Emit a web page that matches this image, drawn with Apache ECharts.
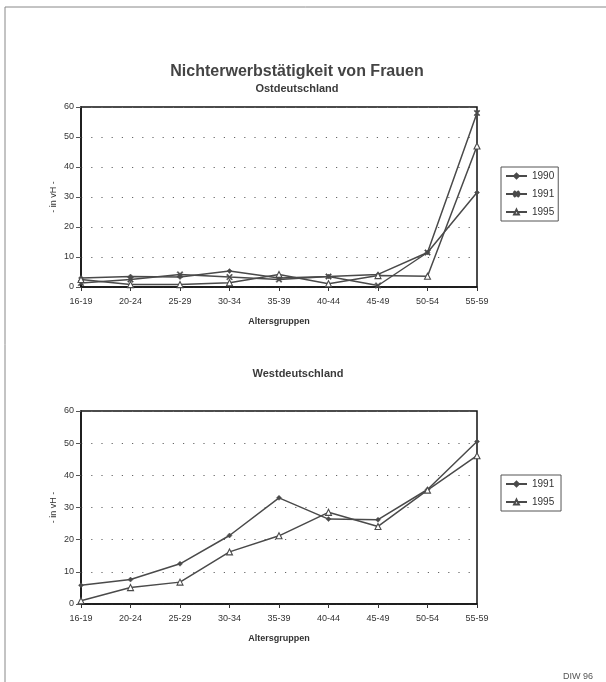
<!DOCTYPE html>
<html>
<head>
<meta charset="utf-8">
<script src="https://cdn.jsdelivr.net/npm/echarts@6/dist/echarts.min.js"></script>
<style>
html,body{margin:0;padding:0;background:#fff;}
#c{width:606px;height:682px;}
</style>
</head>
<body>
<div id="c"></div>
<script>
var categories = ['16-19','20-24','25-29','30-34','35-39','40-44','45-49','50-54','55-59'];
var yTicks = [0, 10, 20, 30, 40, 50, 60];

// Ostdeutschland
var ost1990 = [3.0, 3.5, 3.3, 5.3, 3.0, 3.5, 4.2, 11.5, 31.5];
var ost1991 = [1.3, 2.5, 4.2, 3.3, 2.5, 3.5, 0.5, 11.5, 58.0];
var ost1995 = [2.5, 0.8, 0.8, 1.4, 4.2, 1.1, 3.8, 3.6, 47.0];

// Westdeutschland
var west1991 = [5.8, 7.6, 12.5, 21.3, 33.0, 26.4, 26.2, 35.6, 50.5];
var west1995 = [1.0, 5.1, 6.8, 16.2, 21.2, 28.5, 24.1, 35.4, 46.1];

var FONT = 'Liberation Sans, Arial, sans-serif';
var INK = '#333';
var LINE = '#4a4a4a';
var xSym = 'path://M0,1.5L1.5,0L5,3.5L8.5,0L10,1.5L6.5,5L10,8.5L8.5,10L5,6.5L1.5,10L0,8.5L3.5,5Z';

function xAxis(gridIndex){
  return {
    type:'category', gridIndex:gridIndex, data:categories, boundaryGap:false,
    name:'Altersgruppen', nameLocation:'middle', nameGap:30,
    nameTextStyle:{fontFamily:FONT, fontSize:9, fontWeight:'bold', color:INK},
    axisLine:{lineStyle:{color:'#111', width:1.5}},
    axisTick:{show:true, length:4, lineStyle:{color:'#333'}},
    axisLabel:{fontFamily:FONT, fontSize:9, color:INK, margin:10, interval:0},
    splitLine:{show:false}
  };
}
function yAxis(gridIndex){
  return {
    type:'value', gridIndex:gridIndex, min:0, max:60, interval:10,
    name:'- in vH -', nameLocation:'middle', nameGap:23, nameRotate:90,
    nameMoveOverlap:false,
    nameTextStyle:{fontFamily:FONT, fontSize:9, color:INK},
    axisLine:{show:true, lineStyle:{color:'#111', width:1.5}},
    axisTick:{show:true, length:5, lineStyle:{color:'#555'}},
    axisLabel:{fontFamily:FONT, fontSize:9, color:INK, margin:7,
      formatter:function(v){ return yTicks.indexOf(v) >= 0 ? String(v) : ''; }},
    splitLine:{show:true, lineStyle:{color:'#666', type:[1.2,9], width:1.2}}
  };
}
function ser(name, data, xi, sym, size, fill){
  return {
    name:name, type:'line', xAxisIndex:xi, yAxisIndex:xi, data:data,
    symbol:sym, symbolSize:size, showSymbol:true,
    lineStyle:{color:LINE, width:1.5},
    itemStyle:{color:fill, borderColor:LINE, borderWidth: sym==='triangle'?1.1:0.5},
    animation:false
  };
}
var legendCommon = {
  orient:'vertical', left:501, itemWidth:21, itemHeight:6, itemGap:8,
  padding:[4,4,4,4], borderColor:'#555', borderWidth:1, borderRadius:0,
  textStyle:{fontFamily:FONT, fontSize:10, color:INK}
};

var chart = echarts.init(document.getElementById('c'), null, {renderer:'canvas'});
chart.setOption({
  backgroundColor:'#fff',
  animation:false,
  title:[
    {text:'Nichterwerbstätigkeit von Frauen', left:292, top:59, textAlign:'center',
      textStyle:{fontFamily:FONT, fontSize:16, fontWeight:'bold', color:'#444'}},
    {text:'Ostdeutschland', left:292, top:78, textAlign:'center',
      textStyle:{fontFamily:FONT, fontSize:11, fontWeight:'bold', color:'#3a3a3a'}},
    {text:'Westdeutschland', left:293, top:363, textAlign:'center',
      textStyle:{fontFamily:FONT, fontSize:11, fontWeight:'bold', color:'#3a3a3a'}}
  ],
  legend:[
    Object.assign({}, legendCommon, {top:167, data:['1990','1991','1995']}),
    Object.assign({}, legendCommon, {top:475, data:['1991 ','1995 ']})
  ],
  grid:[
    {left:81, top:107, width:396, height:180, show:true, borderColor:'#111', borderWidth:1.5, backgroundColor:'transparent'},
    {left:81, top:411, width:396, height:193, show:true, borderColor:'#111', borderWidth:1.5, backgroundColor:'transparent'}
  ],
  xAxis:[xAxis(0), xAxis(1)],
  yAxis:[yAxis(0), yAxis(1)],
  series:[
    ser('1990', ost1990, 0, 'diamond', 5, LINE),
    ser('1991', ost1991, 0, xSym, 6, LINE),
    ser('1995', ost1995, 0, 'triangle', 6, '#fff'),
    ser('1991 ', west1991, 1, 'diamond', 5, LINE),
    ser('1995 ', west1995, 1, 'triangle', 6, '#fff')
  ],
  graphic:[
    {type:'line', shape:{x1:5, y1:7, x2:606, y2:7}, style:{stroke:'#888', lineWidth:1}},
    {type:'line', shape:{x1:5, y1:7, x2:5, y2:682}, style:{stroke:'#888', lineWidth:1}},
    {type:'text', left:563, top:672, style:{text:'DIW 96', fontFamily:FONT, fontSize:9, fill:'#555'}}
  ]
});
</script>
</body>
</html>
